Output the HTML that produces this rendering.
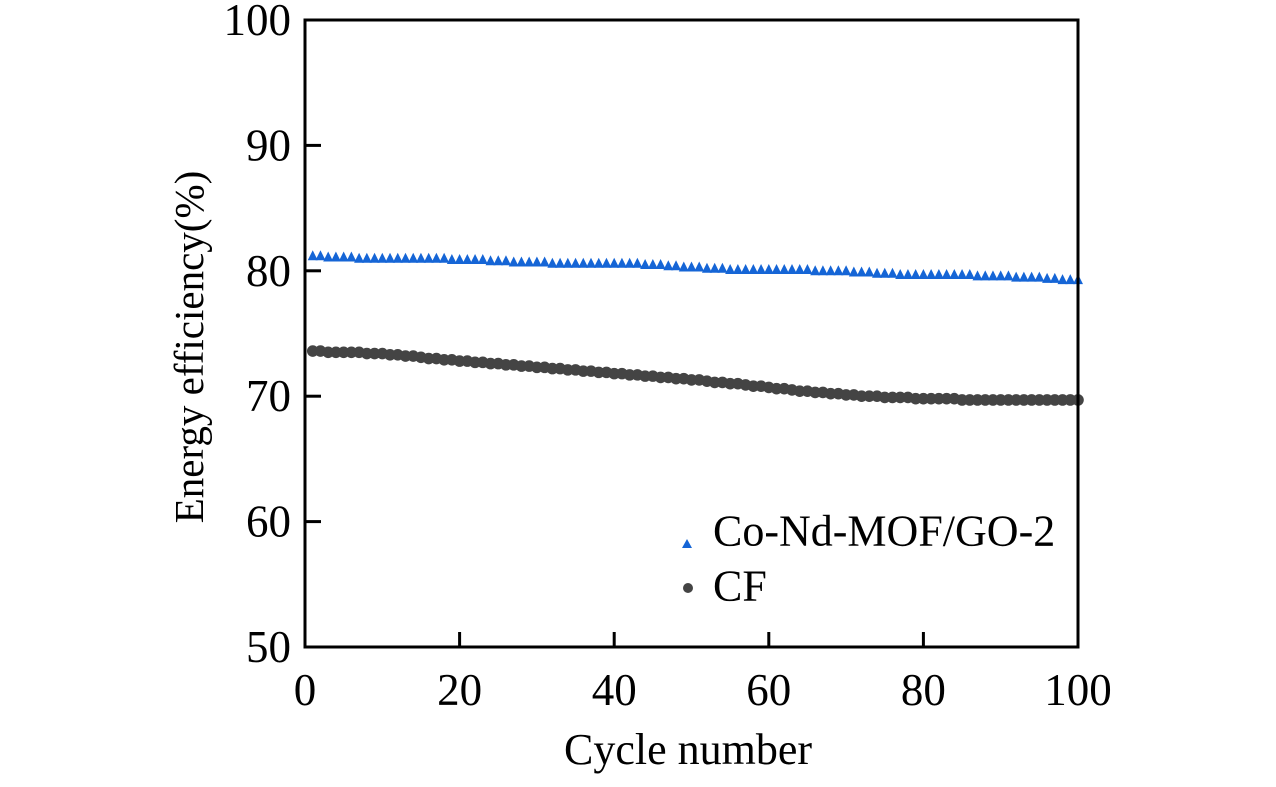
<!DOCTYPE html>
<html><head><meta charset="utf-8"><style>body{margin:0;background:#fff}svg{display:block}text{font-family:"Liberation Serif",serif;fill:#000}</style></head>
<body>
<svg id="chart" width="1276" height="787" viewBox="0 0 1276 787" xmlns="http://www.w3.org/2000/svg">
<g id="marks"></g>
<g id="axes"></g>
<text x="688" y="764" font-size="44" text-anchor="middle">Cycle number</text>
<text transform="translate(203,347) rotate(-90)" font-size="41" text-anchor="middle">Energy efficiency(%)</text>
<g>
<polygon points="682,548 692,548 687,539" fill="#1565d6"/>
<text x="713" y="531" font-size="44" dominant-baseline="central">Co-Nd-MOF/GO-2</text>
<circle cx="688" cy="588" r="5" fill="#444"/>
<text x="713" y="586" font-size="44" dominant-baseline="central">CF</text>
</g>
</svg>
<script>
const cycles = Array.from({length:100},(_,i)=>i+1);
const coNdMof = [81.2,81.2,81.1,81.1,81.1,81.1,81.0,81.0,81.0,81.0,
81.0,81.0,81.0,81.0,81.0,81.0,81.0,81.0,80.9,80.9,
80.9,80.9,80.9,80.8,80.8,80.8,80.7,80.7,80.7,80.7,
80.7,80.6,80.6,80.6,80.6,80.6,80.6,80.6,80.6,80.6,
80.6,80.6,80.6,80.5,80.5,80.5,80.4,80.4,80.3,80.3,
80.3,80.2,80.2,80.2,80.1,80.1,80.1,80.1,80.1,80.1,
80.1,80.1,80.1,80.1,80.1,80.0,80.0,80.0,80.0,80.0,
79.9,79.9,79.9,79.8,79.8,79.8,79.7,79.7,79.7,79.7,
79.7,79.7,79.7,79.7,79.7,79.7,79.6,79.6,79.6,79.6,
79.6,79.5,79.5,79.5,79.5,79.4,79.4,79.3,79.3,79.3];
const cf = [73.6,73.6,73.5,73.5,73.5,73.5,73.5,73.4,73.4,73.4,
73.3,73.3,73.2,73.2,73.1,73.0,73.0,72.9,72.9,72.8,
72.8,72.7,72.7,72.6,72.6,72.5,72.5,72.4,72.4,72.3,
72.3,72.2,72.2,72.1,72.1,72.0,72.0,71.9,71.9,71.8,
71.8,71.7,71.7,71.6,71.6,71.5,71.5,71.4,71.4,71.3,
71.3,71.2,71.1,71.1,71.0,71.0,70.9,70.8,70.8,70.7,
70.6,70.6,70.5,70.4,70.4,70.3,70.3,70.2,70.2,70.1,
70.1,70.0,70.0,70.0,69.9,69.9,69.9,69.9,69.8,69.8,
69.8,69.8,69.8,69.8,69.7,69.7,69.7,69.7,69.7,69.7,
69.7,69.7,69.7,69.7,69.7,69.7,69.7,69.7,69.7,69.7];
const xTicks = [0,20,40,60,80,100];
const yTicks = [50,60,70,80,90,100];

const NS="http://www.w3.org/2000/svg";
const X0=305,X1=1078,Y0=647,Y1=20;
const xs=v=>X0+(v-0)/100*(X1-X0);
const ys=v=>Y0-(v-50)/50*(Y0-Y1);
function mk(tag,attrs,parent){const e=document.createElementNS(NS,tag);for(const k in attrs)e.setAttribute(k,attrs[k]);parent.appendChild(e);return e;}
const marks=document.getElementById('marks'),axes=document.getElementById('axes');
cycles.forEach((c,i)=>{
  const x=xs(c),y=ys(cf[i]);
  const p=mk('circle',{cx:x,cy:y,r:5.8,fill:'#444'},marks);
  
  
});
cycles.forEach((c,i)=>{
  const x=xs(c),y=ys(coNdMof[i]);
  const p=mk('polygon',{points:`${x-5},${y+4.5} ${x+5},${y+4.5} ${x},${y-5.5}`,fill:'#1565d6'},marks);
  
  
});
const frame=mk('rect',{x:X0,y:Y1,width:X1-X0,height:Y0-Y1,fill:'none',stroke:'#000','stroke-width':3},axes);


xTicks.forEach(v=>{
  const x=xs(v);
  const t=mk('line',{x1:x,x2:x,y1:Y0,y2:Y0-15,stroke:'#000','stroke-width':3},axes);
  
  
  const l=mk('text',{x:x,y:Y0+58,'font-size':45,'text-anchor':'middle'},axes);
  l.textContent=v;
  
  
});
yTicks.forEach(v=>{
  const y=ys(v);
  const t=mk('line',{x1:X0,x2:X0+16,y1:y,y2:y,stroke:'#000','stroke-width':3},axes);
  
  
  const l=mk('text',{x:X0-14,y:y,'font-size':45,'text-anchor':'end','dominant-baseline':'central'},axes);
  l.textContent=v;
  
  
});
</script>
</body></html>
